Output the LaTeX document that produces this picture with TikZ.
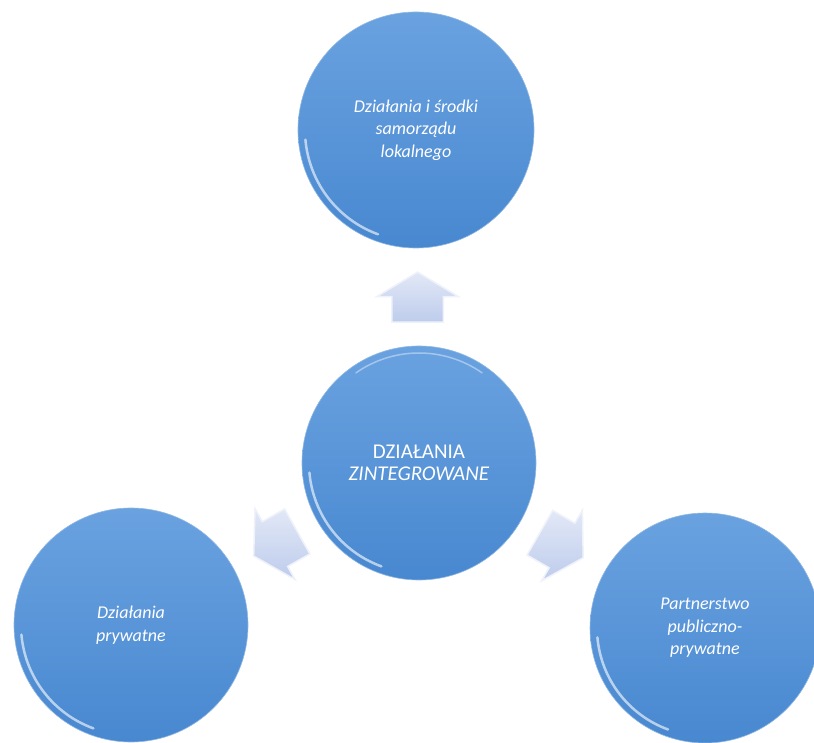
\documentclass[tikz,border=0pt]{standalone}
\usepackage{fontspec}
\setmainfont{Carlito}
\usepackage{tikz}
\usetikzlibrary{shapes.arrows,calc}

\definecolor{ballTop}{RGB}{106,162,224}
\definecolor{ballBot}{RGB}{72,136,208}
\definecolor{arrowFill}{RGB}{190,204,236}

\begin{document}
\begin{tikzpicture}[x=1pt,y=1pt,
    ball/.style={circle, minimum size=#1, inner sep=0pt, top color=ballTop, bottom color=ballBot,
      draw=ballBot!60!white, line width=0.6pt, text=white, align=center,
      font=\fontsize{18}{22.5}\selectfont},
    blockarrow/.style={single arrow, minimum height=50pt, inner xsep=0pt, inner ysep=25pt,
      single arrow head extend=15pt, single arrow tip angle=118,
      top color=arrowFill!45!white, bottom color=arrowFill, draw=white!75!arrowFill, line width=1.5pt},
    glow/.style={white, line width=2.5pt, opacity=0.6, line cap=round}]
  \useasboundingbox (0,0) rectangle (814,742);

  \node[ball=236pt] (samorzad) at (416,612) {\textit{Działania i środki}\\\textit{samorządu}\\\textit{lokalnego}};
  \node[ball=234pt, font=\fontsize{21}{22}\selectfont] (zintegr) at (419,279) {DZIAŁANIA\\\textit{ZINTEGROWANE}};
  \node[ball=234pt] (prywatne) at (131,117) {\textit{Działania}\\\textit{prywatne}};
  \node[ball=230pt] (partner) at (705,114) {\textit{Partnerstwo}\\\textit{publiczno-}\\\textit{prywatne}};

  \draw[glow] ($(samorzad.center)+(185:111)$) arc[start angle=185, end angle=250, radius=111];
  \draw[glow] ($(zintegr.center)+(185:110)$) arc[start angle=185, end angle=250, radius=110];
  \draw[glow] ($(prywatne.center)+(185:110)$) arc[start angle=185, end angle=250, radius=110];
  \draw[glow] ($(partner.center)+(185:108)$) arc[start angle=185, end angle=250, radius=108];
  \draw[glow, opacity=0.4, line width=1.5pt] ($(zintegr.center)+(55:110)$) arc[start angle=55, end angle=125, radius=110];

  \node[blockarrow, rotate=90] (up) at ($(zintegr)!0.475!(samorzad)$) {};
  \node[blockarrow, rotate=209.4] (toleft) at ($(zintegr)!0.475!(prywatne)$) {};
  \node[blockarrow, rotate=-30] (toright) at ($(zintegr)!0.475!(partner)$) {};
\end{tikzpicture}
\end{document}
